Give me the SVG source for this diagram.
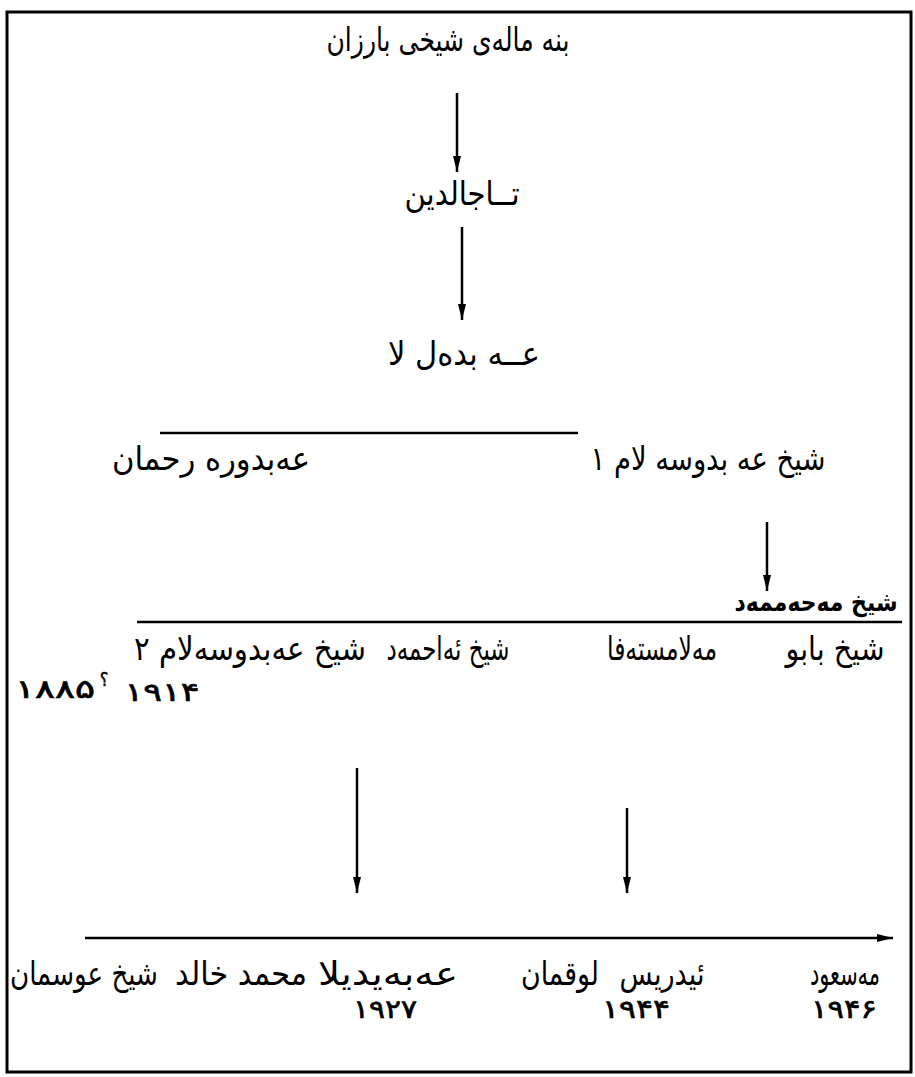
<svg xmlns="http://www.w3.org/2000/svg" width="915" height="1077" viewBox="0 0 915 1077">
<style>
.t{font-family:"DejaVu Sans Condensed","DejaVu Sans",sans-serif;font-size:33px;fill:#000;text-anchor:middle}
.b{font-weight:bold;font-size:26px}
.n{font-family:"DejaVu Sans Condensed","DejaVu Sans",sans-serif;font-size:26px;fill:#000;stroke:#000;stroke-width:0.6;text-anchor:middle}
.c{stroke:#000;stroke-width:2.5;fill:none}
</style>
<defs>
<marker id="ah" viewBox="0 0 16 8" refX="16" refY="4" markerWidth="16" markerHeight="8" markerUnits="userSpaceOnUse" orient="auto">
<path d="M0,0 L16,4 L0,8 z" fill="#000"/>
</marker>
</defs>
<rect x="7" y="12" width="904" height="1060" fill="#fff" stroke="#000" stroke-width="3"/>
<g id="connectors">
<line class="c" x1="457" y1="93" x2="457" y2="172" marker-end="url(#ah)"/>
<line class="c" x1="462" y1="227" x2="462" y2="320" marker-end="url(#ah)"/>
<line class="c" x1="160" y1="433" x2="578" y2="433" stroke-width="3"/>
<line class="c" x1="767" y1="522" x2="767" y2="591" marker-end="url(#ah)"/>
<line class="c" x1="137" y1="622" x2="902" y2="622"/>
<line class="c" x1="357" y1="768" x2="357" y2="893" marker-end="url(#ah)"/>
<line class="c" x1="627" y1="808" x2="627" y2="893" marker-end="url(#ah)"/>
<line class="c" x1="85" y1="938" x2="893" y2="938" marker-end="url(#ah)"/>
</g>
<g id="n-title"><text class="t" x="448" y="51" textLength="243" lengthAdjust="spacingAndGlyphs">بنه مالەی شیخی بارزان</text></g>
<g id="n-tajaddin"><text class="t" x="462" y="205" textLength="115" lengthAdjust="spacingAndGlyphs">تــاجالدین</text></g>
<g id="n-abdullah"><text class="t" x="464" y="365" textLength="152" lengthAdjust="spacingAndGlyphs">عــە بدەل لا</text></g>
<g id="n-abdurrahman"><text class="t" x="211" y="470" textLength="198" lengthAdjust="spacingAndGlyphs">عەبدورە رحمان</text></g>
<g id="n-abdulsalam1"><text class="t" x="708" y="470" textLength="235" lengthAdjust="spacingAndGlyphs">شیخ عە بدوسە لام ۱</text></g>
<g id="n-muhammad"><text class="t b" x="816" y="611" textLength="163" lengthAdjust="spacingAndGlyphs">شیخ مەحەممەد</text></g>
<g id="n-babo"><text class="t" x="835" y="660" textLength="99" lengthAdjust="spacingAndGlyphs">شیخ بابو</text></g>
<g id="n-mustafa"><text class="t" x="662" y="660" textLength="110" lengthAdjust="spacingAndGlyphs">مەلامستەفا</text></g>
<g id="n-ahmad"><text class="t" x="448" y="660" textLength="123" lengthAdjust="spacingAndGlyphs">شیخ ئەاحمەد</text></g>
<g id="n-abdulsalam2"><text class="t" x="250" y="660" textLength="232" lengthAdjust="spacingAndGlyphs">شیخ عەبدوسەلام ۲</text></g>
<g id="n-dates1">
<text class="n" x="55" y="698" textLength="80" lengthAdjust="spacingAndGlyphs">۱۸۸۵</text>
<text class="n" x="104" y="686" style="font-size:18px;stroke-width:0.4">؟</text>
<text class="n" x="162" y="701" textLength="75" lengthAdjust="spacingAndGlyphs">۱۹۱۴</text>
</g>
<g id="n-osman"><text class="t" x="84" y="985" textLength="148" lengthAdjust="spacingAndGlyphs">شیخ عوسمان</text></g>
<g id="n-khalid"><text class="t" x="241" y="985" textLength="132" lengthAdjust="spacingAndGlyphs">محمد خالد</text></g>
<g id="n-ubeydullah"><text class="t" x="388" y="985" textLength="140" lengthAdjust="spacingAndGlyphs">عەبەیدیلا</text></g>
<g id="n-luqman"><text class="t" x="560" y="985" textLength="78" lengthAdjust="spacingAndGlyphs">لوقمان</text></g>
<g id="n-idris"><text class="t" x="662" y="985" textLength="85" lengthAdjust="spacingAndGlyphs">ئیدریس</text></g>
<g id="n-masoud"><text class="t" x="845" y="985" textLength="70" lengthAdjust="spacingAndGlyphs">مەسعود</text></g>
<g id="n-years">
<text class="n" x="385" y="1018" textLength="64" lengthAdjust="spacingAndGlyphs">۱۹۲۷</text>
<text class="n" x="636" y="1018" textLength="68" lengthAdjust="spacingAndGlyphs">۱۹۴۴</text>
<text class="n" x="844" y="1018" textLength="66" lengthAdjust="spacingAndGlyphs">۱۹۴۶</text>
</g>
</svg>
